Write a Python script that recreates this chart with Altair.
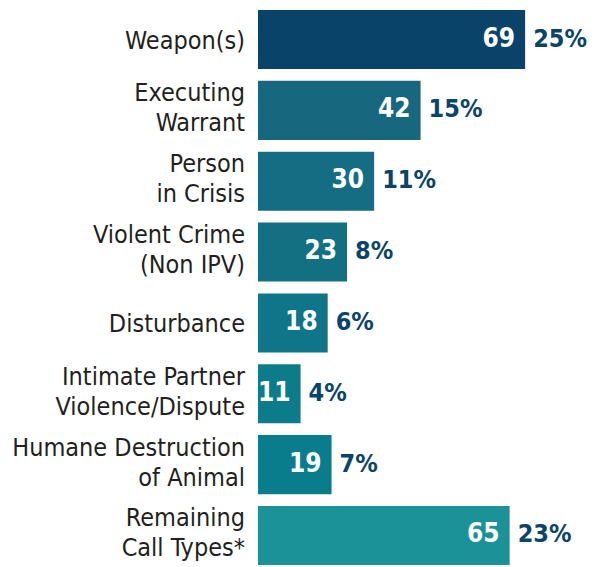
import altair as alt
import pandas as pd

categories = [
    "Weapon(s)",
    "Executing\nWarrant",
    "Person\nin Crisis",
    "Violent Crime\n(Non IPV)",
    "Disturbance",
    "Intimate Partner\nViolence/Dispute",
    "Humane Destruction\nof Animal",
    "Remaining\nCall Types*",
]
counts = [69, 42, 30, 23, 18, 11, 19, 65]
percents = ["25%", "15%", "11%", "8%", "6%", "4%", "7%", "23%"]
colors = ["#0A4369", "#17687F", "#146D82", "#137083", "#0F7588", "#0C7C8B", "#0A7D8C", "#1A9298"]

lines = [c.split("\n") for c in categories]
df = pd.DataFrame({
    "cat": categories,
    "count": counts,
    "pct": percents,
    "color": colors,
    "line1": [l[0] for l in lines],
    "line2": [l[1] if len(l) > 1 else "" for l in lines],
    "nlines": [len(l) for l in lines],
})

FONT = "DejaVu Sans Condensed, DejaVu Sans, sans-serif"

y = alt.Y("cat:N", sort=categories, axis=None,
          scale=alt.Scale(paddingInner=0.167, paddingOuter=0))
x = alt.X("count:Q", axis=None, scale=alt.Scale(domain=[0, 70], nice=False, zero=True))

base = alt.Chart(df).encode(y=y)

bars = base.mark_bar().encode(
    x=x,
    color=alt.Color("color:N", scale=None),
)

vals = base.mark_text(align="right", baseline="middle", dx=-10, dy=-1,
                      font=FONT, fontSize=26, fontWeight="bold", color="white").encode(
    x=x, text="count:Q")

pcts = base.mark_text(align="left", baseline="middle", dx=8, dy=-1,
                      font=FONT, fontSize=25, fontWeight="bold", color="#0B4469").encode(
    x=x, text="pct:N")

lab_kw = dict(align="right", baseline="middle", font=FONT, fontSize=25, color="#231F20")

single = base.transform_filter("datum.nlines == 1").mark_text(dy=1, **lab_kw).encode(
    x=alt.value(-13), text="line1:N")
top = base.transform_filter("datum.nlines == 2").mark_text(dy=-17, **lab_kw).encode(
    x=alt.value(-13), text="line1:N")
bottom = base.transform_filter("datum.nlines == 2").mark_text(dy=13, **lab_kw).encode(
    x=alt.value(-13), text="line2:N")

chart = alt.layer(bars, vals, pcts, single, top, bottom).properties(
    width=271, height=555,
    padding={"left": 250, "top": 2, "right": 58, "bottom": 0},
    autosize=alt.AutoSizeParams(type="none"),
).configure_view(stroke=None)

chart.save("out.html", embed_options={"renderer": "svg", "actions": False})
